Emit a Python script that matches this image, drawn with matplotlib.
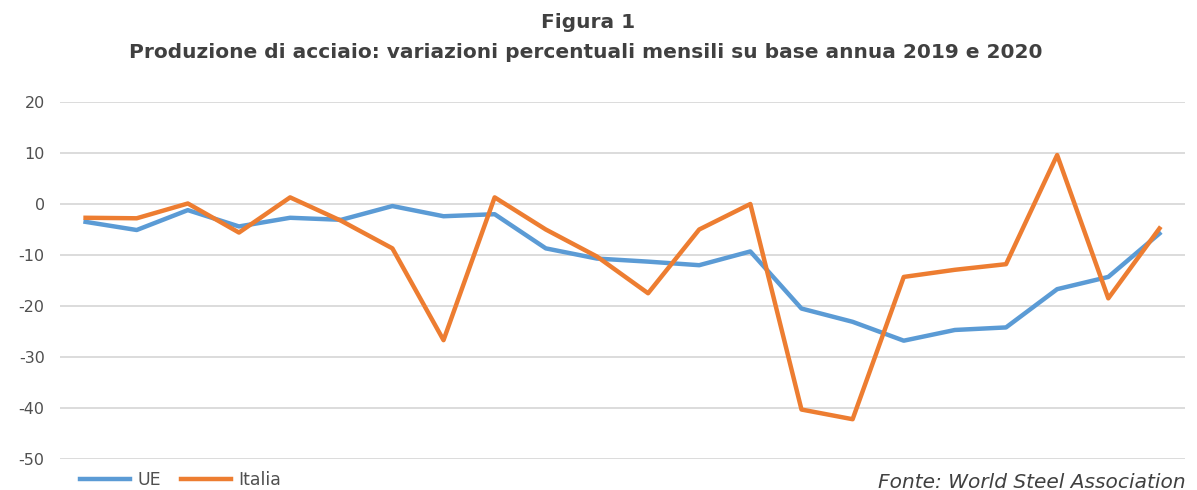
import matplotlib
matplotlib.use("Agg")
import matplotlib.pyplot as plt

months = list(range(1, 23))
ue = [-3.5, -5.1, -1.2, -4.4, -2.7, -3.1, -0.4, -2.4, -2.0, -8.7, -10.7, -11.3,
      -12.0, -9.3, -20.5, -23.1, -26.8, -24.7, -24.2, -16.7, -14.3, -5.8]
italia = [-2.7, -2.8, 0.1, -5.6, 1.3, -3.3, -8.7, -26.7, 1.3, -5.0, -10.3, -17.5,
          -5.0, 0.0, -40.3, -42.2, -14.3, -12.9, -11.8, 9.6, -18.5, -4.8]
yticks = [20, 10, 0, -10, -20, -30, -40, -50]

plt.rcParams['font.family'] = ['DejaVu Sans']

fig = plt.figure(figsize=(11.97, 4.9), dpi=100)
ax = fig.add_axes([60/1197, 31/490, 1125/1197, 357/490])

x = list(range(len(months)))
l1, = ax.plot(x, ue, color='#5B9BD5', lw=3.2, solid_joinstyle='round', label='UE')
l2, = ax.plot(x, italia, color='#ED7D31', lw=3.2, solid_joinstyle='round', label='Italia')

ax.set_xlim(-0.5, len(months) - 0.5)
ax.set_ylim(-50, 20)
ax.set_yticks(yticks)
ax.set_yticklabels([str(v) for v in yticks], fontsize=11.5, color='#505050')
ax.set_xticks([])
ax.grid(axis='y', color='#d9d9d9', lw=1.3)
ax.set_axisbelow(True)
for s in ax.spines.values():
    s.set_visible(False)
ax.tick_params(axis='y', length=0, pad=11)

fig.text(0.491, 1 - 23/490, 'Figura 1', ha='center', va='center',
         fontsize=14.5, fontweight='bold', color='#404040')
fig.text(0.489, 1 - 52/490,
         'Produzione di acciaio: variazioni percentuali mensili su base annua 2019 e 2020',
         ha='center', va='center', fontsize=14.5, fontweight='bold', color='#404040')

leg = fig.legend(handles=[l1, l2], loc='center left', bbox_to_anchor=(80/1197, 1 - 480/490),
                 ncol=2, frameon=False, fontsize=12.5, handlelength=2.9, columnspacing=1.15,
                 handletextpad=0.4, borderaxespad=0, borderpad=0)
for t in leg.get_texts():
    t.set_color('#505050')

fig.text(878/1197, 1 - 488/490, 'Fonte: World Steel Association', ha='left', va='baseline',
         fontsize=14.5, style='italic', color='#404040')

fig.savefig('out.png', dpi=100)
